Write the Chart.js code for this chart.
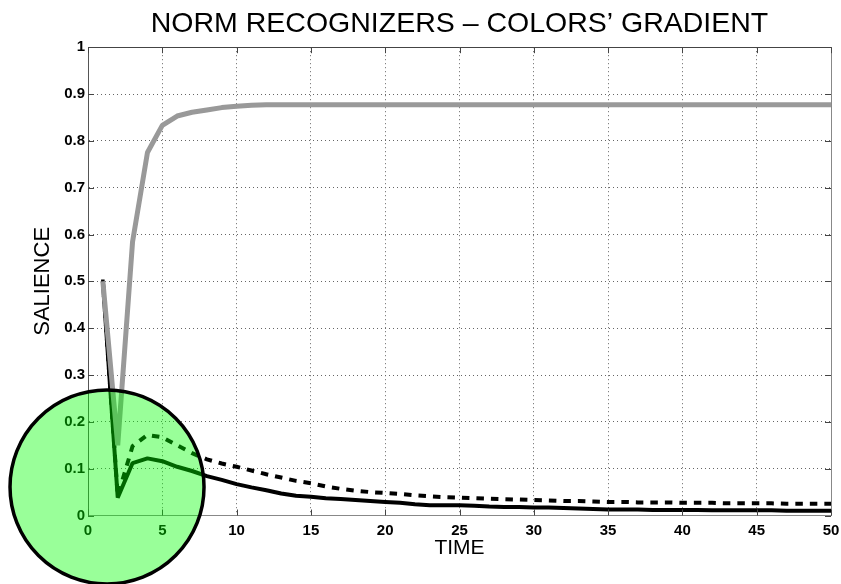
<!DOCTYPE html>
<html>
<head>
<meta charset="utf-8">
<script src="https://cdn.jsdelivr.net/npm/chart.js@4/dist/chart.umd.min.js"></script>
<style>
html,body{margin:0;padding:0;background:#fff;}
canvas{display:block;}
</style>
</head>
<body>
<canvas id="c" width="841" height="584"></canvas>
<script>
const titleText = "NORM RECOGNIZERS \u2013 COLORS\u2019 GRADIENT";
const xLabel = "TIME";
const yLabel = "SALIENCE";

const times = [1,2,3,4,5,6,7,8,9,10,11,12,13,14,15,16,17,18,19,20,21,22,23,24,25,26,27,28,29,30,31,32,33,34,35,36,37,38,39,40,41,42,43,44,45,46,47,48,49,50];

const graySeries = [0.50,0.15,0.585,0.775,0.833,0.853,0.861,0.866,0.871,0.874,0.876,0.877,0.877,0.877,0.877,0.877,0.877,0.877,0.877,0.877,0.877,0.877,0.877,0.877,0.877,0.877,0.877,0.877,0.877,0.877,0.877,0.877,0.877,0.877,0.877,0.877,0.877,0.877,0.877,0.877,0.877,0.877,0.877,0.877,0.877,0.877,0.877,0.877,0.877,0.877];

const solidSeries = [0.50,0.038,0.112,0.122,0.116,0.104,0.095,0.084,0.076,0.067,0.060,0.054,0.047,0.042,0.040,0.037,0.035,0.033,0.031,0.029,0.027,0.024,0.022,0.022,0.022,0.021,0.019,0.018,0.018,0.017,0.017,0.016,0.015,0.014,0.013,0.013,0.013,0.012,0.012,0.012,0.012,0.011,0.011,0.011,0.011,0.011,0.010,0.010,0.010,0.010];

const dashedSeries = [0.50,0.042,0.148,0.172,0.167,0.150,0.133,0.120,0.111,0.104,0.096,0.088,0.081,0.074,0.069,0.062,0.057,0.053,0.050,0.048,0.046,0.043,0.041,0.039,0.038,0.037,0.036,0.035,0.034,0.033,0.032,0.031,0.031,0.030,0.029,0.029,0.028,0.028,0.028,0.027,0.027,0.027,0.026,0.026,0.026,0.026,0.025,0.025,0.025,0.025];

const xTickStep = 5;
const yTickStep = 0.1;

// highlight circle (data coordinates of centre)
const circleCenter = {x: 1.28, y: 0.061};

function pts(arr){ return times.map((t,i)=>({x:t, y:arr[i]})); }

const FONT = "'Liberation Sans', Arial, Helvetica, sans-serif";

const framePlugin = {
  id: 'frame',
  afterDraw(chart){
    const {ctx, chartArea:a, scales} = chart;
    const xs = scales.x, ys = scales.y;
    ctx.save();
    ctx.setLineDash([]);
    // top & right borders
    ctx.lineWidth = 1;
    ctx.strokeStyle = '#444';
    ctx.beginPath();
    ctx.moveTo(a.left, Math.round(a.top)+0.5);
    ctx.lineTo(a.right, Math.round(a.top)+0.5);
    ctx.stroke();
    ctx.strokeStyle = '#888';
    ctx.beginPath();
    ctx.moveTo(Math.round(a.right)+0.5, a.top);
    ctx.lineTo(Math.round(a.right)+0.5, a.bottom);
    ctx.stroke();
    // inward tick marks
    const tl = 6;
    ctx.strokeStyle = '#444';
    ctx.beginPath();
    xs.ticks.forEach(t=>{
      const px = Math.round(xs.getPixelForValue(t.value))+0.5;
      ctx.moveTo(px, a.bottom); ctx.lineTo(px, a.bottom - tl);
      ctx.moveTo(px, a.top); ctx.lineTo(px, a.top + tl);
    });
    ys.ticks.forEach(t=>{
      const py = Math.round(ys.getPixelForValue(t.value))+0.5;
      ctx.moveTo(a.left, py); ctx.lineTo(a.left + tl, py);
      ctx.moveTo(a.right, py); ctx.lineTo(a.right - tl, py);
    });
    ctx.stroke();
    // highlight circle
    const cx = xs.getPixelForValue(circleCenter.x);
    const cy = ys.getPixelForValue(circleCenter.y);
    ctx.beginPath();
    ctx.arc(cx, cy, 97, 0, Math.PI*2);
    ctx.fillStyle = 'rgba(0,255,0,0.4)';
    ctx.fill();
    ctx.lineWidth = 3.5;
    ctx.strokeStyle = '#000';
    ctx.stroke();
    ctx.restore();
  }
};

new Chart(document.getElementById('c'), {
  type: 'line',
  data: {
    datasets: [
      {
        label: 'gray',
        data: pts(graySeries),
        borderColor: 'rgb(153,153,153)',
        borderWidth: 5,
        borderJoinStyle: 'bevel',
        pointRadius: 0,
        tension: 0
      },
      {
        label: 'solid',
        data: pts(solidSeries),
        borderColor: '#000',
        borderWidth: 4,
        borderJoinStyle: 'bevel',
        pointRadius: (c)=> c.dataIndex===0 ? 2.5 : 0,
        pointStyle: 'rect',
        pointBackgroundColor: '#000',
        pointBorderWidth: 0,
        tension: 0
      },
      {
        label: 'dashed',
        data: pts(dashedSeries),
        borderColor: '#000',
        borderWidth: 4,
        borderDash: [7.5, 7],
        borderJoinStyle: 'bevel',
        pointRadius: 0,
        tension: 0
      }
    ]
  },
  options: {
    responsive: false,
    animation: false,
    devicePixelRatio: 1,
    layout: { padding: { left: 0, right: 10, top: 0, bottom: 0 } },
    plugins: {
      legend: { display: false },
      tooltip: { enabled: false },
      title: {
        display: true,
        fullSize: false,
        text: titleText,
        color: '#000',
        font: { family: FONT, size: 28.5, weight: 'normal' },
        padding: { top: 7, bottom: 6 }
      }
    },
    scales: {
      x: {
        type: 'linear',
        min: 0, max: 50,
        afterFit(s){ s.height = 68.5; },
        ticks: {
          stepSize: xTickStep,
          color: '#000',
          padding: 0,
          maxRotation: 0,
          font: { family: FONT, size: 15, weight: 'bold' }
        },
        grid: { color: '#666', drawTicks: true, tickLength: 6, tickColor: 'rgba(0,0,0,0)', lineWidth: 1 },
        border: { display: true, color: '#888', width: 1, dash: [1,3] },
        title: {
          display: true, text: xLabel, color: '#000',
          font: { family: FONT, size: 21, weight: 'normal' },
          padding: { top: 0, bottom: 23 }
        }
      },
      y: {
        type: 'linear',
        min: 0, max: 1,
        afterFit(s){ s.width = 88; },
        ticks: {
          stepSize: yTickStep,
          color: '#000',
          padding: 3,
          font: { family: FONT, size: 15, weight: 'bold' },
          callback: (v)=> String(Math.round(v*10)/10)
        },
        grid: { color: '#666', drawTicks: false, lineWidth: 1 },
        border: { display: true, color: '#555', width: 1, dash: [1,3] },
        title: {
          display: true, text: yLabel, color: '#000',
          font: { family: FONT, size: 22, weight: 'normal' },
          padding: { top: 30, bottom: 0 }
        }
      }
    }
  },
  plugins: [framePlugin]
});
</script>
</body>
</html>
